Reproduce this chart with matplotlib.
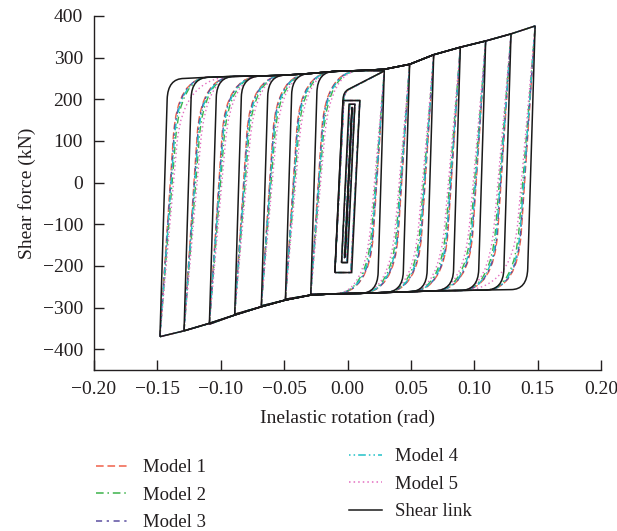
import matplotlib
matplotlib.use("Agg")
import matplotlib.pyplot as plt
from matplotlib.path import Path
from matplotlib.patches import PathPatch
from matplotlib.lines import Line2D

plt.rcParams['font.family'] = ['Liberation Serif', 'DejaVu Serif']
plt.rcParams['axes.unicode_minus'] = True

# cycle amplitudes (rad) and peak shear forces (kN)
cycle_amp = [0.029, 0.049, 0.068, 0.089, 0.109, 0.129, 0.148]
peak_pos = [268, 284, 307, 325, 340, 357, 376]
peak_neg = [-268, -280, -296, -316, -340, -356, -370]

# upper (loading) and lower (unloading) envelope points
up_env_x = [-0.129, -0.109, -0.089, -0.068, -0.049, -0.029, -0.010, 0.010,
            0.029, 0.049, 0.068, 0.089, 0.109, 0.129]
up_env_F = [250, 253, 255, 256, 258, 262, 267, 269, 272, 284, 307, 325, 340, 357]
lo_env_x = [0.129, 0.109, 0.089, 0.068, 0.049, 0.029, 0.010, -0.010,
            -0.029, -0.049, -0.068, -0.089, -0.109, -0.129]
lo_env_F = [-257, -258, -259, -260, -262, -264, -266, -267,
            -270, -282, -298, -318, -338, -356]

# small cycles near the origin
small_xneg = [-0.010, -0.0047, -0.0020]
small_xpos = [0.0097, 0.0058, 0.0035]
small_Fpos = [197, 188, 180]
small_Fneg = [-216, -192, -180]

# first excursion out of the small cycles
first_start = (-0.010, -216)
first_knee = 218
first_end = (0.029, 268)

labels = ["Model 1", "Model 2", "Model 3", "Model 4", "Model 5", "Shear link"]
colors = ["#f0604a", "#3cb34a", "#5b4ea0", "#22c1c8", "#e36cc0", "#1a1a1a"]
styles = [(0, (5, 2.5)), (0, (5, 2.5, 1, 2.5)), (0, (4, 3, 1.5, 3)),
          (0, (1, 2, 1, 2, 5, 2)), (0, (1, 2)), "-"]
compliance = [2.2e-5, 2.6e-5, 2.3e-5, 2.4e-5, 2.9e-5, 1.0e-5]
drop = [140, 150, 140, 145, 160, 50]
gap = [0.018, 0.02, 0.018, 0.019, 0.022, 0.008]


def loop_path(A, P, N, comp, dF, g):
    verts = [(-A, N)]
    codes = [Path.MOVETO]
    # reloading branch up to the upper envelope
    k = 0
    for k, (xa, Fa) in enumerate(zip(up_env_x, up_env_F)):
        if xa >= -A + comp * (Fa - N) + g:
            break
    Fa = up_env_F[k]
    verts += [(-A + comp * (Fa - dF - N), Fa - dF), (-A + comp * (Fa - N), Fa),
              (up_env_x[k], Fa)]
    codes += [Path.LINETO, Path.CURVE3, Path.CURVE3]
    for xa, Fa in zip(up_env_x[k + 1:], up_env_F[k + 1:]):
        if xa < A - 0.001:
            verts.append((xa, Fa))
            codes.append(Path.LINETO)
    verts.append((A, P))
    codes.append(Path.LINETO)
    # unloading branch down to the lower envelope
    for k, (xa, Fa) in enumerate(zip(lo_env_x, lo_env_F)):
        if xa <= A - comp * (P - Fa) - g:
            break
    Fa = lo_env_F[k]
    verts += [(A - comp * (P - Fa - dF), Fa + dF), (A - comp * (P - Fa), Fa),
              (lo_env_x[k], Fa)]
    codes += [Path.LINETO, Path.CURVE3, Path.CURVE3]
    for xa, Fa in zip(lo_env_x[k + 1:], lo_env_F[k + 1:]):
        if xa > -A + 0.001:
            verts.append((xa, Fa))
            codes.append(Path.LINETO)
    verts.append((-A, N))
    codes.append(Path.LINETO)
    return Path(verts, codes)


def small_path(xn, xp, P, N, comp):
    verts = [(xn, N), (xn + comp * (P - N), P), (xp, P), (xp - comp * (P - N), N), (xn, N)]
    codes = [Path.MOVETO, Path.LINETO, Path.LINETO, Path.LINETO, Path.LINETO]
    return Path(verts, codes)


def first_path(comp):
    x0, F0 = first_start
    verts = [(x0, F0), (x0 + comp * (first_knee - 18 - F0), first_knee - 18),
             (x0 + comp * (first_knee - F0), first_knee),
             (x0 + comp * (first_knee - F0) + 0.004, first_knee + 6), first_end]
    codes = [Path.MOVETO, Path.LINETO, Path.CURVE3, Path.CURVE3, Path.LINETO]
    return Path(verts, codes)


fig = plt.figure(figsize=(6.17, 5.31), dpi=100)
ax = fig.add_axes([0.1524, 0.3032, 0.8217, 0.6667])

for i in range(6):
    lw = 1.1 if i == 5 else 1.0
    sc = 1.55e-5 if i == 5 else 1.7e-5
    paths = [loop_path(A, P, N, compliance[i], drop[i], gap[i])
             for A, P, N in zip(cycle_amp, peak_pos, peak_neg)]
    paths += [small_path(a, b, p, n, sc)
              for a, b, p, n in zip(small_xneg, small_xpos, small_Fpos, small_Fneg)]
    paths.append(first_path(sc))
    for p in paths:
        ax.add_patch(PathPatch(p, fill=False, edgecolor=colors[i], lw=lw,
                               linestyle=styles[i], zorder=2 + i * 0.1))

xt = [-0.20, -0.15, -0.10, -0.05, 0.00, 0.05, 0.10, 0.15, 0.20]
ax.set_xlim(-0.2, 0.2)
ax.set_ylim(-450, 400)
ax.set_xticks(xt)
ax.set_xticklabels(["%.2f" % v if v >= 0 else "\u2212%.2f" % -v for v in xt])
ax.set_yticks(range(-400, 401, 100))
ax.spines['top'].set_visible(False)
ax.spines['right'].set_visible(False)
for s in ['left', 'bottom']:
    ax.spines[s].set_linewidth(1.0)
    ax.spines[s].set_color('#231f20')
ax.tick_params(direction='in', length=7, width=1.0, labelsize=14,
               colors='#231f20', pad=8)
ax.set_xlabel("Inelastic rotation (rad)", fontsize=14, color='#231f20', labelpad=8)
ax.set_ylabel("Shear force (kN)", fontsize=14, color='#231f20', labelpad=5)

handles = [Line2D([], [], color=c, ls=ls, lw=1.1) for c, ls in zip(colors, styles)]
leg_kw = dict(loc='upper left', frameon=False, fontsize=13.5, handlelength=1.8,
              handletextpad=0.7, labelspacing=0.55, borderpad=0, borderaxespad=0,
              labelcolor='#231f20')
fig.legend(handles[:3], labels[:3], bbox_to_anchor=(0.155, 0.135), **leg_kw)
fig.legend(handles[3:], labels[3:], bbox_to_anchor=(0.565, 0.156), **leg_kw)

fig.savefig("out.png", dpi=100)
